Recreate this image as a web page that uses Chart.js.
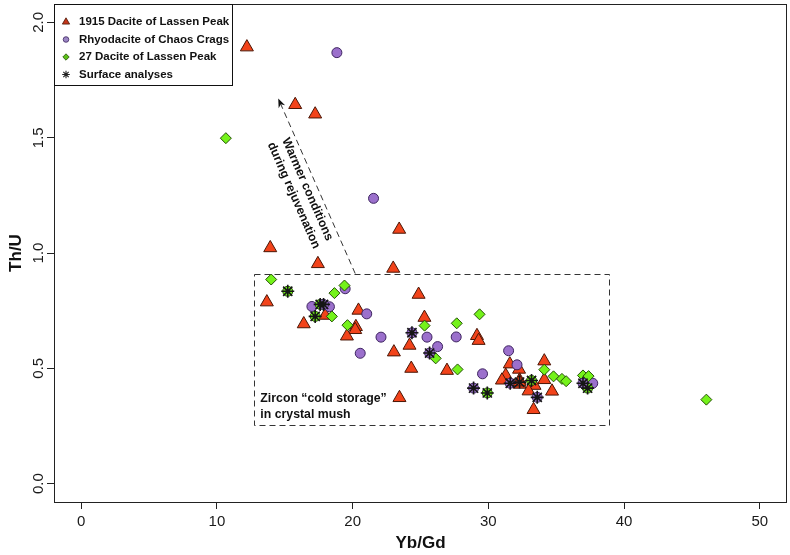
<!DOCTYPE html>
<html><head><meta charset="utf-8">
<script src="https://cdn.jsdelivr.net/npm/chart.js@4.4.1/dist/chart.umd.min.js"></script>
<style>html,body{margin:0;padding:0;background:#fff}canvas{display:block}</style>
</head><body>
<canvas id="c" width="790" height="555"></canvas>
<script>
// ---- data (Yb/Gd, Th/U) ----
const xTicks = [0, 10, 20, 30, 40, 50];
const yTicks = [0, 0.5, 1, 1.5, 2];

const dacite1915 = [[12.21,1.893],[15.77,1.643],[17.24,1.602],[23.43,1.102],[13.93,1.022],[17.44,0.953],[22.99,0.933],[13.68,0.787],[17.98,0.729],[16.40,0.692],[20.43,0.751],[20.24,0.680],[20.19,0.667],[19.58,0.639],[23.04,0.570],[24.86,0.820],[24.19,0.599],[25.29,0.720],[24.32,0.499],[23.45,0.372],[29.16,0.641],[29.28,0.620],[26.95,0.490],[31.58,0.518],[32.26,0.495],[31.28,0.469],[31.00,0.448],[32.30,0.448],[32.30,0.430],[33.40,0.425],[32.96,0.401],[33.33,0.320],[34.12,0.531],[34.12,0.450],[34.69,0.400]];

const rhyodacite = [[18.84,1.869],[21.54,1.237],[19.45,0.845],[17.00,0.768],[18.29,0.767],[21.04,0.736],[22.09,0.635],[20.56,0.565],[25.48,0.635],[26.26,0.594],[27.63,0.636],[29.57,0.476],[31.49,0.576],[32.11,0.515],[37.69,0.435]];

const dacite27 = [[10.66,1.498],[14.00,0.885],[19.40,0.859],[18.66,0.826],[18.47,0.725],[19.62,0.687],[25.30,0.685],[26.12,0.543],[27.67,0.695],[29.35,0.734],[27.73,0.495],[34.12,0.494],[34.80,0.465],[35.42,0.454],[35.73,0.444],[36.97,0.469],[37.38,0.466],[46.06,0.364]];

const surface1915 = [[32.30,0.440]];
const surfaceRhyo = [[17.86,0.777],[24.37,0.654],[25.67,0.566],[28.91,0.414],[31.61,0.435],[33.60,0.374],[36.97,0.435]];
const surface27 = [[15.22,0.834],[17.61,0.777],[17.24,0.725],[29.92,0.393],[33.18,0.447],[37.31,0.414]];

const seriesLabels = ['1915 Dacite of Lassen Peak','Rhyodacite of Chaos Crags','27 Dacite of Lassen Peak','Surface analyses'];

// annotation anchors (data units)
const storageBox = {x0:12.75, x1:38.93, y0:0.255, y1:0.911};
const arrowFrom = [20.19, 0.911];
const arrowTo = [14.52, 1.670];
const arrowTextAt = [16.16, 1.263];
const arrowText = ['Warmer conditions', 'during rejuvenation'];
const storageTextAt = [13.2, 0.37];
const storageText = ['Zircon \u201Ccold storage\u201D', 'in crystal mush'];

// ---- styling ----
const FONT = "'Liberation Sans', Arial, Helvetica, sans-serif";
const C1915 = {fill:'#F2431A', border:'#4a1606'};
const CRHY = {fill:'#9B70CC', border:'#3e2560'};
const C27 = {fill:'#74F21A', border:'#255006'};
const toPts = a => a.map(p => ({x:p[0], y:p[1]}));

const annotations = {
  id:'annot',
  beforeDatasetsDraw(chart){
    const {ctx, scales:{x, y}} = chart;
    ctx.save();
    ctx.strokeStyle = '#333';
    ctx.lineWidth = 1;
    ctx.setLineDash([6,4]);
    const bx0 = x.getPixelForValue(storageBox.x0), bx1 = x.getPixelForValue(storageBox.x1);
    const by0 = y.getPixelForValue(storageBox.y0), by1 = y.getPixelForValue(storageBox.y1);
    ctx.strokeRect(Math.round(bx0)+0.5, Math.round(by1)+0.5, Math.round(bx1-bx0), Math.round(by0-by1));
    // arrow
    const ax0 = x.getPixelForValue(arrowFrom[0]), ay0 = y.getPixelForValue(arrowFrom[1]);
    const ax1 = x.getPixelForValue(arrowTo[0]), ay1 = y.getPixelForValue(arrowTo[1]);
    const ang = Math.atan2(ay1-ay0, ax1-ax0);
    const hl = 9, hw = 3.5;
    ctx.beginPath();
    ctx.moveTo(ax0, ay0);
    ctx.lineTo(ax1 - Math.cos(ang)*hl*0.7, ay1 - Math.sin(ang)*hl*0.7);
    ctx.stroke();
    ctx.setLineDash([]);
    ctx.fillStyle = '#111';
    ctx.beginPath();
    ctx.moveTo(ax1, ay1);
    ctx.lineTo(ax1 - Math.cos(ang)*hl - Math.sin(ang)*hw, ay1 - Math.sin(ang)*hl + Math.cos(ang)*hw);
    ctx.lineTo(ax1 - Math.cos(ang)*hl*0.7, ay1 - Math.sin(ang)*hl*0.7);
    ctx.lineTo(ax1 - Math.cos(ang)*hl + Math.sin(ang)*hw, ay1 - Math.sin(ang)*hl - Math.cos(ang)*hw);
    ctx.closePath();
    ctx.fill();
    // rotated text
    const rot = Math.atan2(ay0-ay1, ax0-ax1);
    ctx.font = 'bold 12.3px ' + FONT;
    ctx.fillStyle = '#111';
    ctx.textAlign = 'center';
    ctx.textBaseline = 'middle';
    ctx.save();
    ctx.translate(x.getPixelForValue(arrowTextAt[0]), y.getPixelForValue(arrowTextAt[1]));
    ctx.rotate(rot);
    ctx.fillText(arrowText[0], 0, -7.5);
    ctx.fillText(arrowText[1], 0, 7.5);
    ctx.restore();
    // storage text
    ctx.textAlign = 'left';
    const sx = x.getPixelForValue(storageTextAt[0]), sy = y.getPixelForValue(storageTextAt[1]);
    ctx.fillText(storageText[0], sx, sy);
    ctx.fillText(storageText[1], sx, sy + 16);
    ctx.restore();
  }
};

const frameAndLegend = {
  id:'frameLegend',
  afterDraw(chart){
    const {ctx, chartArea:a} = chart;
    ctx.save();
    ctx.strokeStyle = '#222';
    ctx.lineWidth = 1;
    ctx.strokeRect(a.left+0.5, a.top+0.5, a.right-a.left-1, a.bottom-a.top);
    // legend
    const lx = a.left, ly = a.top, lw = 178, lh = 81;
    ctx.fillStyle = '#fff';
    ctx.fillRect(lx+1, ly+1, lw-1, lh-1);
    ctx.strokeStyle = '#111';
    ctx.strokeRect(lx+0.5, ly+0.5, lw, lh);
    const rows = [18, 35.5, 53, 70.5];
    const styles = [
      {pointStyle:'triangle', radius:4.2, fill:'#C4351A', border:'#4a1606', bw:0.8},
      {pointStyle:'circle', radius:2.8, fill:'#9B86C4', border:'#3e2560', bw:0.8},
      {pointStyle:'rectRot', radius:3.2, fill:'#5CC018', border:'#255006', bw:0.8},
      {pointStyle:'star', radius:3.8, fill:'#222', border:'#222', bw:1.1}
    ];
    ctx.font = 'bold 11.5px ' + FONT;
    ctx.textBaseline = 'middle';
    ctx.textAlign = 'left';
    seriesLabels.forEach((lab, i) => {
      const s = styles[i];
      ctx.fillStyle = s.fill; ctx.strokeStyle = s.border; ctx.lineWidth = s.bw;
      Chart.helpers.drawPoint(ctx, {pointStyle:s.pointStyle, radius:s.radius, rotation:0, borderWidth:s.bw}, lx+12, ly+rows[i]);
      ctx.fillStyle = '#111';
      ctx.fillText(lab, lx+25, ly+rows[i]);
    });
    ctx.restore();
  }
};

const ds = (label, data, style, r, c, order, bw) => ({
  label, data: toPts(data), pointStyle: style, pointRadius: r, pointHoverRadius: r,
  backgroundColor: c.fill, borderColor: c.border, borderWidth: bw || 1, showLine: false, order
});

new Chart(document.getElementById('c'), {
  type: 'scatter',
  data: {
    datasets: [
      ds(seriesLabels[0], dacite1915, 'triangle', 7.5, C1915, 6),
      ds(seriesLabels[1], rhyodacite, 'circle', 5, CRHY, 5),
      ds(seriesLabels[2], dacite27, 'rectRot', 5.5, C27, 4),
      ds('s1915', surface1915, 'triangle', 7.5, C1915, 3),
      ds('sRhyo', surfaceRhyo, 'circle', 5, CRHY, 3),
      ds('s27', surface27, 'circle', 5, C27, 3),
      {label: seriesLabels[3], data: toPts([...surface1915, ...surfaceRhyo, ...surface27]), pointStyle:'star',
       pointRadius:6.5, pointHoverRadius:6.5, borderColor:'#161616', backgroundColor:'#161616', borderWidth:1.6, order:1}
    ]
  },
  options: {
    responsive: false, animation: false, events: [],
    layout: {autoPadding: false, padding: {top: 4, right: 3, left: 0, bottom: 0}},
    plugins: {legend: {display: false}, tooltip: {enabled: false}},
    scales: {
      x: {
        type: 'linear', min: -2, max: 52,
        afterBuildTicks: s => { s.ticks = xTicks.map(v => ({value: v})); },
        afterFit: s => { s.height = 53; s.paddingLeft = 0; s.paddingRight = 0; },
        grid: {display: true, drawOnChartArea: false, drawTicks: true, tickLength: 7, color: '#222'},
        border: {display: false},
        ticks: {font: {family: FONT, size: 15}, color: '#1a1a1a', padding: 4, maxRotation: 0, autoSkip: false,
                callback: v => String(v)},
        title: {display: true, text: 'Yb/Gd', font: {family: FONT, size: 17, weight: 'bold'}, color: '#111', padding: {top: 0, bottom: 1}}
      },
      y: {
        type: 'linear', min: -0.08, max: 2.08,
        afterBuildTicks: s => { s.ticks = yTicks.map(v => ({value: v})); },
        afterFit: s => { s.width = 54; s.paddingTop = 0; s.paddingBottom = 0; },
        grid: {display: true, drawOnChartArea: false, drawTicks: true, tickLength: 7, color: '#222'},
        border: {display: false},
        ticks: {font: {family: FONT, size: 15}, color: '#1a1a1a', padding: -2, minRotation: 90, maxRotation: 90,
                crossAlign: 'center', autoSkip: false, callback: v => Number(v).toFixed(1)},
        title: {display: true, text: 'Th/U', font: {family: FONT, size: 17, weight: 'bold'}, color: '#111', padding: {top: 6, bottom: 0}}
      }
    }
  },
  plugins: [annotations, frameAndLegend]
});
</script>
</body></html>
